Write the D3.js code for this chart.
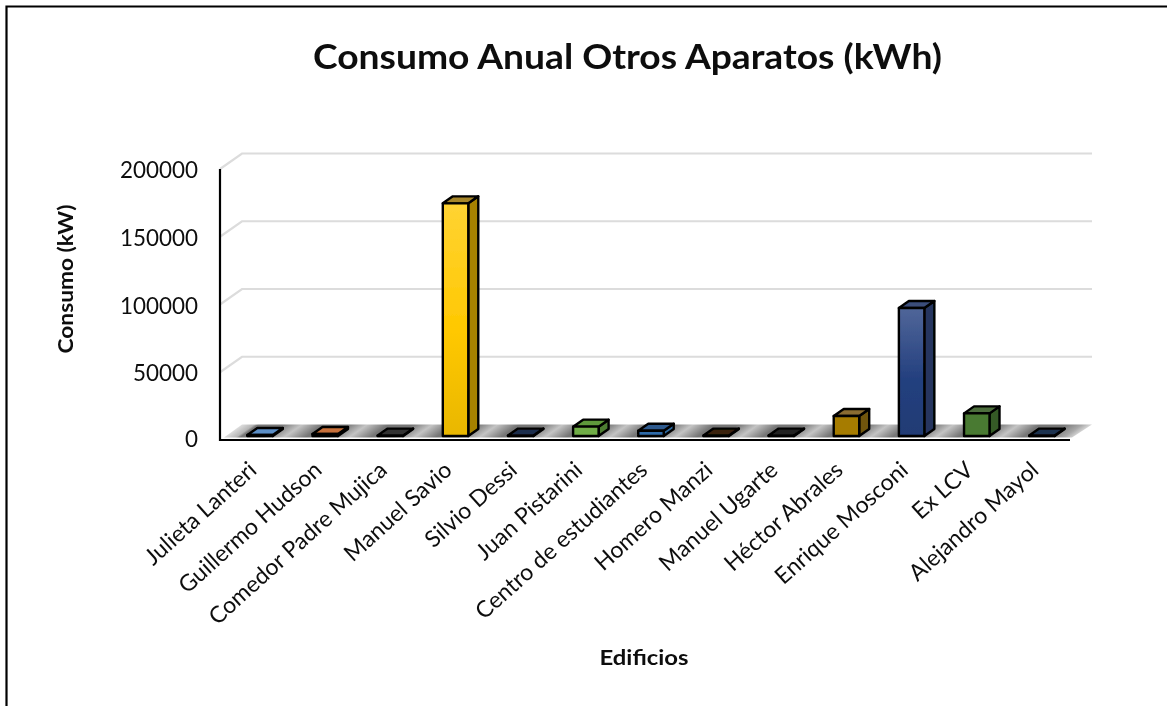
<!DOCTYPE html>
<html>
<head>
<meta charset="utf-8">
<script src="https://cdn.jsdelivr.net/npm/d3@7"></script>
<style>
html,body{margin:0;padding:0;background:#fff;overflow:hidden}
svg{display:block}
text{font-family:Lato,"Open Sans",sans-serif;fill:#111}
</style>
</head>
<body>
<svg id="c" width="1167" height="706"></svg>
<script>
const categories = ["Julieta Lanteri","Guillermo Hudson","Comedor Padre Mujica","Manuel Savio","Silvio Dessi","Juan Pistarini","Centro de estudiantes","Homero Manzi","Manuel Ugarte","Héctor Abrales","Enrique Mosconi","Ex LCV","Alejandro Mayol"];
const values = [700,1500,300,171700,300,6900,3900,300,300,14800,94500,16700,300];
const barColors = ["#2f5a8e","#5e3110","#222222","#ffc800","#1a2a48","#70ad47","#2e6aa8","#2a180c","#1c1c1c","#a67c00","#24407f","#4a7a30","#1a2e48"];
const topColors = ["#5b8fc7","#c8703a","#333333","#a6862a","#1f2d4d","#5f9a3a","#2f5a8e","#3a2010","#222222","#8a6c30","#3a4d7a","#4e6e3c","#1f3350"];
const sideColors = ["#2f5a8e","#5e3110","#222222","#a68200","#1a2a48","#4d7d30","#2f6aa0","#2a180c","#1c1c1c","#6f5510","#26345f","#355a25","#1a2e48"];
const yTicks = [0,50000,100000,150000,200000];
const chartTitle = "Consumo Anual Otros Aparatos (kWh)";
const xTitle = "Edificios";
const yTitle = "Consumo (kW)";

const svg = d3.select("#c");
const defs = svg.append("defs");
const blur = defs.append("filter").attr("id","soft").attr("x","-2%").attr("y","-2%").attr("width","104%").attr("height","104%");
blur.append("feGaussianBlur").attr("stdDeviation",0.6);

const y = d3.scaleLinear().domain([0,200000]).range([440,169]);
const x = d3.scaleBand().domain(categories).range([227.5,1074.5]).paddingInner(0.609).paddingOuter(0.3045);
const depth = {dx:22, dy:15.5};
const bar = {ox:6, oy:4, dx:10, dy:7};
const axisEndX = 1070, axisStartX = 220;

svg.append("path").attr("d","M6.5,706V6.5H1167").attr("fill","none").attr("stroke","#000").attr("stroke-width",2.2);

const g = svg.append("g").attr("filter","url(#soft)");

// grid
const gridTicks = yTicks.filter(d=>d>0);
g.append("g").selectAll("path").data(gridTicks).join("path")
 .attr("d",d=>`M${axisStartX},${y(d)}l${depth.dx},${-depth.dy}H${axisEndX+depth.dx}`)
 .attr("fill","none").attr("stroke","#dcdcdc").attr("stroke-width",2.2);

// floor
const floorGrad = defs.append("linearGradient").attr("id","floor").attr("gradientUnits","userSpaceOnUse")
 .attr("x1",220).attr("y1",0).attr("x2",1100).attr("y2",0)
 .attr("gradientTransform","matrix(1,0,-1.42,1,613,0)");
const pct = v => ((v-220)/880*100)+"%";
const stops = [[222,"#ffffff"],[244,"#b5b5b5"]];
categories.forEach((c,i)=>{
  const cx = x(c)+x.bandwidth()/2;
  stops.push([cx-12,"#767676"],[cx+12,"#767676"]);
  if(i<categories.length-1) stops.push([cx+32,"#c4c4c4"]);
});
stops.push([1072,"#a8a8a8"],[1090,"#ffffff"]);
floorGrad.selectAll("stop").data(stops).join("stop").attr("offset",d=>pct(d[0])).attr("stop-color",d=>d[1]);
const floorBack = y(0)-depth.dy, floorFront = y(0)-2.5;
g.append("path")
 .attr("d",`M${axisStartX+4},${floorFront}L${axisStartX+depth.dx},${floorBack}H${axisEndX+depth.dx}L${axisEndX+2},${floorFront}Z`)
 .attr("fill","url(#floor)");

// axis lines
g.append("path").attr("d",`M${axisStartX},${y(200000)}V${y(0)}H${axisEndX}`)
 .attr("fill","none").attr("stroke","#000").attr("stroke-width",2.2);

// bars
categories.forEach((c,i)=>{
  const col = barColors[i];
  const g1 = defs.append("linearGradient").attr("id","bar"+i).attr("x1",0).attr("y1",0).attr("x2",0).attr("y2",1);
  const tall = values[i]>50000;
  const data = tall ? [[0,d3.interpolateRgb(col,"#ffffff")(0.2)],[0.55,col],[1,d3.color(col).darker(0.25).formatHex()]] : [[0,col],[1,col]];
  g1.selectAll("stop").data(data).join("stop").attr("offset",d=>d[0]).attr("stop-color",d=>d[1]);
});
const bars = g.append("g").selectAll("g").data(categories.map((c,i)=>({c,v:values[i],i}))).join("g")
 .attr("stroke","#000").attr("stroke-width",2.4).attr("stroke-linejoin","round");
const fx = d=>x(d.c), fw = x.bandwidth();
const ftop = d=>y(d.v)-bar.oy, fbot = y(0)-bar.oy;
bars.append("path").attr("fill",d=>sideColors[d.i])
 .attr("d",d=>`M${fx(d)+fw},${ftop(d)}l${bar.dx},${-bar.dy}V${fbot-bar.dy}l${-bar.dx},${bar.dy}Z`);
bars.append("path").attr("fill",d=>topColors[d.i])
 .attr("d",d=>`M${fx(d)},${ftop(d)}l${bar.dx},${-bar.dy}h${fw}l${-bar.dx},${bar.dy}Z`);
bars.append("rect").attr("x",fx).attr("y",ftop).attr("width",fw).attr("height",d=>fbot-ftop(d))
 .attr("fill",d=>`url(#bar${d.i})`);

// y axis labels
const yAxis = g.append("g").attr("transform",`translate(198,0)`)
 .call(d3.axisLeft(y).tickValues(yTicks).tickSize(0).tickPadding(0).tickFormat(d3.format("d")));
yAxis.select(".domain").remove();
yAxis.selectAll("text").attr("font-size",22.4).attr("dy","0.32em")
 .style("font-family","Lato,sans-serif").attr("fill","#111");
yAxis.selectAll(".tick").attr("transform",d=>`translate(0,${y(d)+ (d===0?0:2)})`);

// x axis labels
const xAxis = g.append("g").attr("transform",`translate(0,${y(0)})`)
 .call(d3.axisBottom(x).tickSize(0).tickPadding(0));
xAxis.select(".domain").remove();
xAxis.selectAll("text").attr("text-anchor","end").attr("font-size",23)
 .style("font-family","Lato,sans-serif").attr("fill","#111")
 .attr("dx",0).attr("dy",0)
 .attr("transform","translate(-2,32) rotate(-42)");

// titles
g.append("text").attr("x",627.5).attr("y",69).attr("text-anchor","middle").attr("font-size",34).attr("font-weight",700)
 .attr("textLength",629).attr("lengthAdjust","spacingAndGlyphs").text(chartTitle);
g.append("text").attr("x",644).attr("y",665).attr("text-anchor","middle").attr("font-size",20).attr("font-weight",700)
 .attr("textLength",89).attr("lengthAdjust","spacingAndGlyphs").text(xTitle);
g.append("text").attr("transform","translate(73,279) rotate(-90)").attr("text-anchor","middle").attr("font-size",20).attr("font-weight",700)
 .attr("textLength",149).attr("lengthAdjust","spacingAndGlyphs").text(yTitle);
</script>
</body>
</html>
